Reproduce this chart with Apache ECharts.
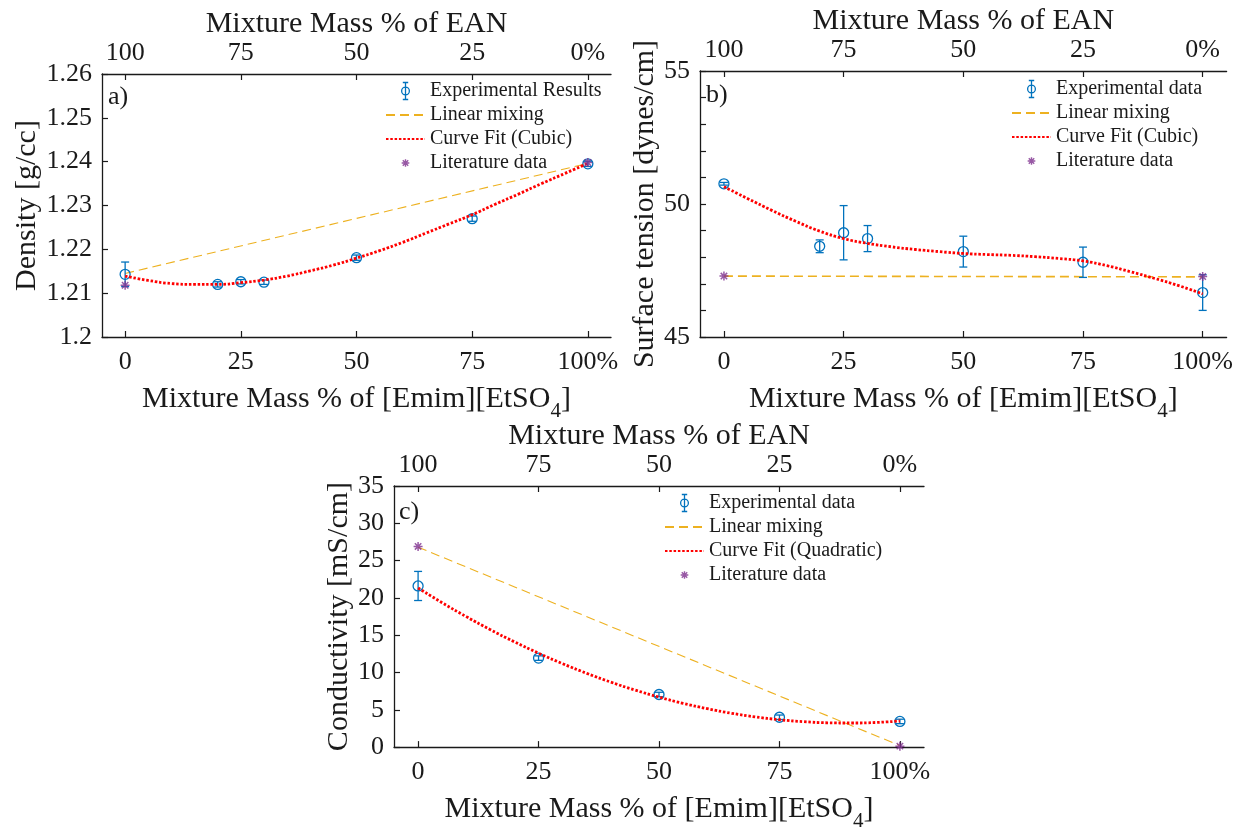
<!DOCTYPE html>
<html>
<head>
<meta charset="utf-8">
<script src="https://cdn.jsdelivr.net/npm/echarts@6/dist/echarts.min.js"></script>
<style>
html, body { margin: 0; padding: 0; background: #fff; }
#chart { width: 1236px; height: 833px; }
</style>
</head>
<body>
<div id="chart"></div>
<script>
// mass % of [Emim][EtSO4]
const xTicks = [0, 25, 50, 75, 100]
const fitX = [0, 5, 10, 15, 20, 25, 30, 35, 40, 45, 50, 55, 60, 65, 70, 75, 80, 85, 90, 95, 100]

// a) density [g/cc]  -> [x, mean, err]
const densExp = [[0, 1.2143, 0.0028], [20, 1.2120, 0.0006], [25, 1.2126, 0.0005], [30, 1.2125, 0.0005],
  [50, 1.2181, 0.0006], [75, 1.2270, 0.0006], [100, 1.2395, 0.0006]]
const densLinear = [[0, 1.2145], [100, 1.2396]]
const densFit = [1.2139, 1.2129, 1.2122, 1.2120, 1.2120, 1.2124, 1.2130, 1.2139, 1.2151, 1.2164, 1.2180,
  1.2197, 1.2216, 1.2237, 1.2258, 1.2279, 1.2303, 1.2326, 1.2350, 1.2373, 1.2396]
const densLit = [[0, 1.2118], [100, 1.2398]]

// b) surface tension [dynes/cm]
const stExp = [[0, 50.76, 0.05], [20, 48.41, 0.24], [25, 48.92, 1.02], [30, 48.70, 0.49],
  [50, 48.21, 0.58], [75, 47.81, 0.57], [100, 46.67, 0.67]]
const stLinear = [[0, 47.29], [100, 47.26]]
const stFit = [50.65, 50.20, 49.76, 49.35, 48.98, 48.70, 48.52, 48.39, 48.29, 48.21, 48.14,
  48.10, 48.07, 48.02, 47.95, 47.86, 47.68, 47.45, 47.20, 46.93, 46.62]
const stLit = [[0, 47.29], [100, 47.27]]

// c) conductivity [mS/cm]
const condExp = [[0, 21.6, 1.95], [25, 11.93, 0.3], [50, 7.05, 0.3], [75, 4.0, 0.3], [100, 3.44, 0.3]]
const condLinear = [[0, 26.8], [100, 0.2]]
const condFit = [21.33, 19.35, 17.49, 15.74, 14.11, 12.59, 11.18, 9.89, 8.71, 7.65, 6.70,
  5.87, 5.15, 4.54, 4.05, 3.67, 3.41, 3.26, 3.23, 3.30, 3.50]
const condLit = [[0, 26.9], [100, 0.13]]

const FONT = 'Liberation Serif'
const INK = '#1a1a1a'
const BLUE = '#0072BD'
const GOLD = '#EDB120'
const RED = '#FF0000'
const PURPLE = '#7E2F8E'

const ERR_ICON = 'path://M5,0L5,22M1.5,0L8.5,0M1.5,22L8.5,22M5,6A5,5,0,1,1,5,16A5,5,0,1,1,5,6'
const STAR = 'path://M10,3L10,17M3,10L17,10M5,5L15,15M5,15L15,5'
const STAR_ICON = 'path://M0,0L0,0M20,20L20,20M10,5.5L10,14.5M5.5,10L14.5,10M6.8,6.8L13.2,13.2M6.8,13.2L13.2,6.8'

function nameStyle() {
  return {
    fontFamily: FONT, fontSize: 30, color: INK, lineHeight: 46,
    rich: { sub: { fontFamily: FONT, fontSize: 21, color: INK, verticalAlign: 'bottom', lineHeight: 46 } }
  }
}

function bottomAxis(grid) {
  return {
    type: 'value', gridIndex: grid, position: 'bottom', min: -5, max: 105,
    name: 'Mixture Mass % of [Emim][EtSO{sub|4}]', nameLocation: 'middle', nameGap: 36,
    nameTextStyle: nameStyle(),
    splitLine: { show: false },
    axisLine: { show: true, onZero: false, lineStyle: { color: INK, width: 1.3 } },
    axisTick: { show: true, inside: true, length: 6, customValues: xTicks, lineStyle: { color: INK, width: 1.2 } },
    axisLabel: {
      customValues: xTicks, margin: 12, fontFamily: FONT, fontSize: 26, color: INK,
      formatter: v => v === 100 ? '100%' : String(v)
    }
  }
}

function topAxis(grid) {
  return {
    type: 'value', gridIndex: grid, position: 'top', inverse: true, min: -5, max: 105,
    name: 'Mixture Mass % of EAN', nameLocation: 'middle', nameGap: 31,
    nameTextStyle: { fontFamily: FONT, fontSize: 30, color: INK },
    splitLine: { show: false },
    axisLine: { show: true, onZero: false, lineStyle: { color: INK, width: 1.3 } },
    axisTick: { show: true, inside: true, length: 6, customValues: xTicks, lineStyle: { color: INK, width: 1.2 } },
    axisLabel: {
      customValues: xTicks, margin: 8, fontFamily: FONT, fontSize: 26, color: INK,
      formatter: v => v === 0 ? '0%' : String(v)
    }
  }
}

function leftAxis(grid, name, min, max, interval, gap, labelVals) {
  const ax = {
    type: 'value', gridIndex: grid, min: min, max: max, interval: interval,
    name: name, nameLocation: 'middle', nameGap: gap,
    nameTextStyle: { fontFamily: FONT, fontSize: 30, color: INK },
    splitLine: { show: false },
    axisLine: { show: true, onZero: false, lineStyle: { color: INK, width: 1.3 } },
    axisTick: { show: true, inside: true, length: 6, lineStyle: { color: INK, width: 1.2 } },
    axisLabel: { margin: 10, fontFamily: FONT, fontSize: 26, color: INK }
  }
  if (labelVals) ax.axisLabel.customValues = labelVals
  return ax
}

function renderErr(params, api) {
  const x = api.value(0), y = api.value(1), e = api.value(2)
  const p = api.coord([x, y])
  const hi = api.coord([x, y + e])
  const lo = api.coord([x, y - e])
  const st = { stroke: BLUE, lineWidth: 1.3, fill: null }
  return {
    type: 'group',
    children: [
      { type: 'line', shape: { x1: p[0], y1: hi[1], x2: p[0], y2: lo[1] }, style: st },
      { type: 'line', shape: { x1: p[0] - 4, y1: hi[1], x2: p[0] + 4, y2: hi[1] }, style: st },
      { type: 'line', shape: { x1: p[0] - 4, y1: lo[1], x2: p[0] + 4, y2: lo[1] }, style: st },
      { type: 'circle', shape: { cx: p[0], cy: p[1], r: 5 }, style: { stroke: BLUE, lineWidth: 1.3, fill: 'transparent' } }
    ]
  }
}

function panelSeries(idx, expName, exp, lin, fitName, fit, lit, linWidth) {
  return [
    {
      name: expName, type: 'custom', xAxisIndex: idx * 2, yAxisIndex: idx,
      renderItem: renderErr, data: exp, encode: { x: 0, y: 1 }, itemStyle: { color: BLUE }, z: 3
    },
    {
      name: 'Linear mixing', type: 'line', xAxisIndex: idx * 2, yAxisIndex: idx, data: lin,
      symbol: 'none', lineStyle: { color: GOLD, width: linWidth, type: [9, 5] }, itemStyle: { color: GOLD }, z: 2
    },
    {
      name: fitName, type: 'line', xAxisIndex: idx * 2, yAxisIndex: idx, smooth: true,
      data: fitX.map((x, i) => [x, fit[i]]),
      symbol: 'none', lineStyle: { color: RED, width: 2.8, type: [2.5, 1.8] }, itemStyle: { color: RED }, z: 4
    },
    {
      name: 'Literature data', type: 'scatter', xAxisIndex: idx * 2, yAxisIndex: idx, data: lit,
      symbol: STAR, symbolSize: 9,
      itemStyle: { color: 'transparent', borderColor: PURPLE, borderWidth: 1.5 }, z: 5
    }
  ]
}

function legendFor(left, top, expName, fitName) {
  return {
    left: left, top: top, orient: 'vertical', padding: 0,
    itemWidth: 39, itemHeight: 17, itemGap: 4,
    textStyle: { fontFamily: FONT, fontSize: 20, color: INK, lineHeight: 20 },
    data: [
      { name: expName, icon: ERR_ICON, itemStyle: { color: 'transparent', borderColor: BLUE, borderWidth: 1.3 } },
      { name: 'Linear mixing', itemStyle: { opacity: 0 } },
      { name: fitName, itemStyle: { opacity: 0 } },
      { name: 'Literature data', icon: STAR_ICON, itemStyle: { color: 'transparent', borderColor: PURPLE, borderWidth: 1.4 } }
    ]
  }
}

function panelLabel(text, x, y) {
  return { type: 'text', left: x, top: y, style: { text: text, font: '26px "Liberation Serif"', fill: INK } }
}

const chart = echarts.init(document.getElementById('chart'))
chart.setOption({
  animation: false,
  backgroundColor: '#fff',
  grid: [
    { left: 102, top: 74, width: 509, height: 263 },
    { left: 700, top: 71, width: 528, height: 266 },
    { left: 394, top: 486, width: 530, height: 268 }
  ],
  xAxis: [bottomAxis(0), topAxis(0), bottomAxis(1), topAxis(1), bottomAxis(2), topAxis(2)],
  yAxis: [
    leftAxis(0, 'Density [g/cc]', 1.2, 1.26, 0.01, 58),
    leftAxis(1, 'Surface tension [dynes/cm]', 45, 55, 1, 40, [45, 50, 55]),
    leftAxis(2, 'Conductivity [mS/cm]', 0, 35, 5, 40)
  ],
  legend: [
    legendFor(385, 81, 'Experimental Results', 'Curve Fit (Cubic)'),
    legendFor(1011, 79, 'Experimental data', 'Curve Fit (Cubic)'),
    legendFor(664, 493, 'Experimental data', 'Curve Fit (Quadratic)')
  ],
  graphic: [
    panelLabel('a)', 108, 84),
    panelLabel('b)', 706, 82),
    panelLabel('c)', 399, 499)
  ],
  series: [].concat(
    panelSeries(0, 'Experimental Results', densExp, densLinear, 'Curve Fit (Cubic)', densFit, densLit, 1.1),
    panelSeries(1, 'Experimental data', stExp, stLinear, 'Curve Fit (Cubic)', stFit, stLit, 1.6),
    panelSeries(2, 'Experimental data', condExp, condLinear, 'Curve Fit (Quadratic)', condFit, condLit, 1.1)
  )
})
</script>
</body>
</html>
